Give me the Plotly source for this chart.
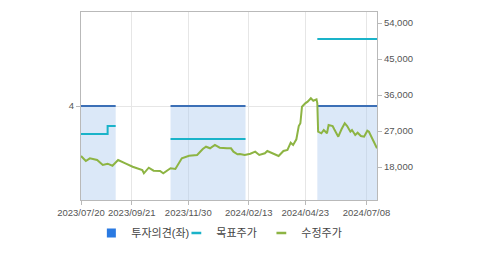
import plotly.graph_objects as go

# --- data ---
price_dates = ["2023-07-20","2023-07-26","2023-07-31","2023-08-09","2023-08-16","2023-08-22","2023-08-28",
               "2023-09-04","2023-09-13","2023-09-22","2023-10-04","2023-10-06","2023-10-12","2023-10-18",
               "2023-10-26","2023-10-30","2023-11-08","2023-11-14","2023-11-22","2023-12-01","2023-12-11",
               "2023-12-18","2023-12-22","2023-12-27","2024-01-02","2024-01-08","2024-01-17","2024-01-22",
               "2024-01-25","2024-01-30","2024-02-02","2024-02-08","2024-02-15","2024-02-21","2024-02-26",
               "2024-03-04","2024-03-07","2024-03-15","2024-03-21","2024-03-27","2024-04-01","2024-04-05",
               "2024-04-08","2024-04-12","2024-04-15","2024-04-17","2024-04-18","2024-04-19","2024-04-23",
               "2024-04-26","2024-04-30","2024-05-03","2024-05-07","2024-05-08","2024-05-09","2024-05-13",
               "2024-05-16","2024-05-20","2024-05-22","2024-05-27","2024-05-29","2024-06-03","2024-06-07",
               "2024-06-11","2024-06-14","2024-06-18","2024-06-20","2024-06-24","2024-06-27","2024-07-01",
               "2024-07-05","2024-07-09","2024-07-11","2024-07-15","2024-07-18","2024-07-21"]
price_values = [20750, 19500, 20175, 19750, 18500, 18825, 18325,
                19750, 18925, 18075, 17250, 16425, 17825, 17075,
                17000, 16425, 17675, 17500, 20175, 20825, 21000,
                22500, 23075, 22675, 23500, 22825, 22675, 22675,
                21825, 21175, 21250, 21000, 21325, 21825, 21000,
                21425, 22000, 21250, 20750, 22000, 22250, 24075,
                23500, 24925, 28250, 28925, 32425, 33075, 33925,
                34325, 35175, 34575, 34925, 33925, 26825, 26425,
                27250, 26425, 28500, 28250, 27425, 25575, 27425,
                28925, 28250, 26825, 27250, 26000, 26575, 25750,
                25575, 27075, 26825, 25175, 23925, 22675]

target_dates = ["2023-07-20", "2023-08-22", "2023-09-01", None,
                "2023-11-08", "2024-02-09", None,
                "2024-05-08", "2024-07-21"]
target_values = [26250, 28250, 28250, None, 25000, 25000, None, 50000, 50000]

opinion_starts = ["2023-07-20", "2023-11-08", "2024-05-08"]
opinion_ends = ["2023-09-01", "2024-02-09", "2024-07-21"]
opinion_values = [4, 4, 4]

x_tick_vals = ["2023-07-20", "2023-09-21", "2023-11-30", "2024-02-13", "2024-04-23", "2024-07-08"]
x_tick_text = ["2023/07/20", "2023/09/21", "2023/11/30", "2024/02/13", "2024/04/23", "2024/07/08"]
price_ticks = [18000, 27000, 36000, 45000, 54000]

FONT = "Liberation Sans, Noto Sans CJK KR, sans-serif"
AXIS_COLOR = "#b9b9b9"
GRID_COLOR = "#e6e6e6"
OPINION_LEGEND = "#2a7ae2"
TARGET_COLOR = "#1ab3c9"
PRICE_COLOR = "#8db443"

fig = go.Figure()

# opinion shaded periods
for s, e, v in zip(opinion_starts, opinion_ends, opinion_values):
    fig.add_trace(go.Scatter(
        x=[s, e], y=[v, v], mode="lines", fill="tozeroy",
        fillcolor="rgba(176,204,240,0.45)",
        line=dict(color="rgba(0,0,0,0)", width=0),
        showlegend=False, hoverinfo="skip", yaxis="y"))

# target price
fig.add_trace(go.Scatter(x=target_dates, y=target_values, mode="lines", name="목표주가",
                         line=dict(color=TARGET_COLOR, width=2, shape="hv"),
                         connectgaps=False, yaxis="y2", showlegend=False))

# adjusted price
fig.add_trace(go.Scatter(x=price_dates, y=price_values, mode="lines", name="수정주가",
                         line=dict(color=PRICE_COLOR, width=2), yaxis="y2", showlegend=False))

# opinion lines on top
for s, e, v in zip(opinion_starts, opinion_ends, opinion_values):
    fig.add_trace(go.Scatter(
        x=[s, e], y=[v, v], mode="lines",
        line=dict(color="#3b6fb6", width=2),
        showlegend=False, hoverinfo="skip", yaxis="y"))

# legend entries (compact symbols)
fig.add_trace(go.Scatter(x=[None], y=[None], mode="markers", name="투자의견(좌)",
                         marker=dict(symbol="square", size=9, color=OPINION_LEGEND),
                         yaxis="y"))
fig.add_trace(go.Scatter(x=[None], y=[None], mode="markers", name="목표주가",
                         marker=dict(symbol="line-ew", size=7, color=TARGET_COLOR,
                                     line=dict(color=TARGET_COLOR, width=2.5)),
                         yaxis="y2"))
fig.add_trace(go.Scatter(x=[None], y=[None], mode="markers", name="수정주가",
                         marker=dict(symbol="line-ew", size=7, color=PRICE_COLOR,
                                     line=dict(color=PRICE_COLOR, width=2.5)),
                         yaxis="y2"))

fig.update_layout(
    width=479, height=254,
    margin=dict(l=81, r=102, t=12, b=54, autoexpand=False),
    paper_bgcolor="white", plot_bgcolor="white",
    font=dict(family=FONT, size=9.5, color="#555555"),
    showlegend=True,
    legend=dict(orientation="h", x=0.035, y=-0.1755, xanchor="left", yanchor="middle",
                font=dict(size=11, color="#444444"), entrywidth=40,
                traceorder="normal", bgcolor="rgba(0,0,0,0)"),
    xaxis=dict(type="date", range=["2023-07-20", "2024-07-21"],
               tickvals=x_tick_vals, ticktext=x_tick_text,
               ticks="outside", ticklen=4, tickcolor=AXIS_COLOR,
               showgrid=True, gridcolor=GRID_COLOR, gridwidth=1,
               showline=True, linecolor=AXIS_COLOR, linewidth=1, mirror=True,
               zeroline=False, tickfont=dict(size=9.5, color="#555555")),
    yaxis=dict(range=[0, 8], tickvals=[4], ticktext=["4"],
               ticks="outside", ticklen=4, tickcolor=AXIS_COLOR,
               showgrid=True, gridcolor=GRID_COLOR,
               showline=True, linecolor=AXIS_COLOR, linewidth=1,
               zeroline=False, tickfont=dict(size=9.5, color="#555555")),
    yaxis2=dict(range=[9750, 56750], overlaying="y", side="right",
                tickvals=price_ticks, tickformat=",",
                ticks="outside", ticklen=4, tickcolor=AXIS_COLOR,
                showgrid=False, showline=True, linecolor=AXIS_COLOR, linewidth=1,
                zeroline=False, tickfont=dict(size=9.5, color="#555555")),
)

fig.write_html("out.html")
